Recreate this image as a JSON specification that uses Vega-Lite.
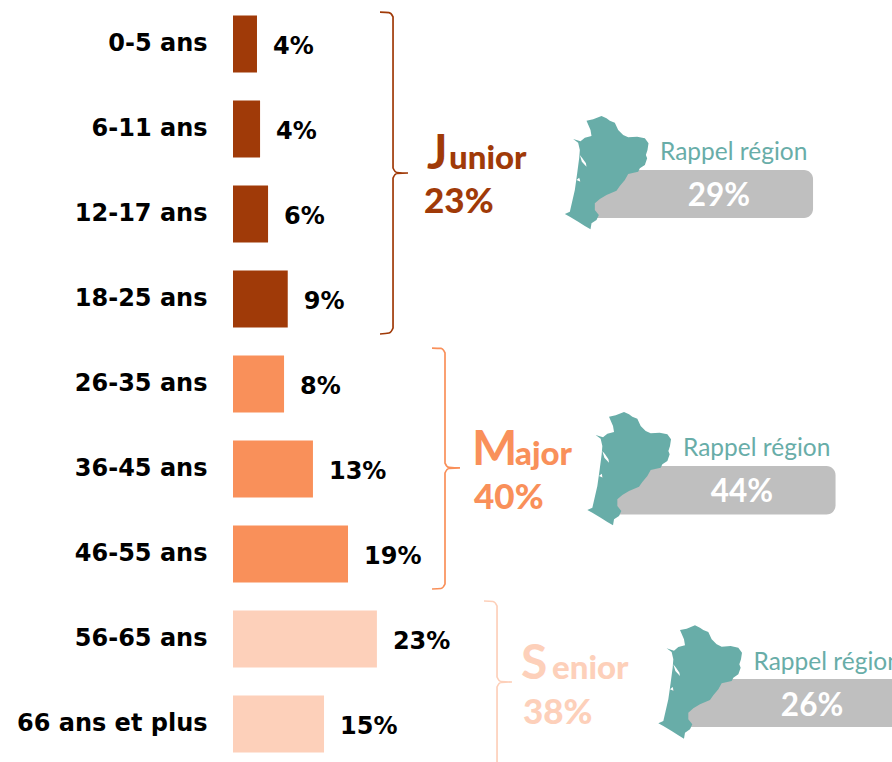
{"$schema":"https://vega.github.io/schema/vega-lite/v6.json","width":659,"height":762,"autosize":{"type":"none"},"padding":{"left":233,"top":0,"right":0,"bottom":0},"background":"white","view":{"stroke":null},"datasets":{"ages":[{"age":"0-5 ans","group":"Junior","pct":3.9,"label":"4%"},{"age":"6-11 ans","group":"Junior","pct":4.4,"label":"4%"},{"age":"12-17 ans","group":"Junior","pct":5.7,"label":"6%"},{"age":"18-25 ans","group":"Junior","pct":8.9,"label":"9%"},{"age":"26-35 ans","group":"Major","pct":8.3,"label":"8%"},{"age":"36-45 ans","group":"Major","pct":13,"label":"13%"},{"age":"46-55 ans","group":"Major","pct":18.7,"label":"19%"},{"age":"56-65 ans","group":"Senior","pct":23.4,"label":"23%"},{"age":"66 ans et plus","group":"Senior","pct":14.8,"label":"15%"}],"groups":[{"group":"Junior","initial":"J","rest":"unior","total":"23%","rappel":"29%","title":"Rappel région","xCap":31.54,"xInitial":31.06,"xRest":35.12,"rowName":1.465,"rowTotal":1.983,"xBarStart":56.42,"xBarEnd":94.31,"rowBarTop":1.476,"rowBarBottom":2.041,"xTitle":69.43,"rowTitle":1.353,"xValue":79.02,"rowValue":1.899,"xMap":60.73,"rowMap":1.508},{"group":"Major","initial":"M","rest":"ajor","total":"40%","rappel":"44%","title":"Rappel région","xCap":38.87,"xInitial":39.19,"xRest":45.85,"rowName":4.947,"rowTotal":5.465,"xBarStart":60.0,"xBarEnd":97.97,"rowBarTop":4.959,"rowBarBottom":5.529,"xTitle":73.17,"rowTitle":4.836,"xValue":82.76,"rowValue":5.381,"xMap":64.39,"rowMap":4.99},{"group":"Senior","initial":"S","rest":"enior","total":"38%","rappel":"26%","title":"Rappel région","xCap":46.83,"xInitial":47.15,"xRest":51.87,"rowName":7.468,"rowTotal":7.995,"xBarStart":71.54,"xBarEnd":112,"rowBarTop":7.465,"rowBarBottom":8.03,"xTitle":84.63,"rowTitle":7.353,"xValue":94.15,"rowValue":7.899,"xMap":75.93,"rowMap":7.5}],"bracket":[{"group":"Junior","o":1,"x":23.9,"row":-0.382},{"group":"Junior","o":2,"x":25.37,"row":-0.376},{"group":"Junior","o":3,"x":26.02,"row":-0.324},{"group":"Junior","o":4,"x":26.02,"row":1.453},{"group":"Junior","o":5,"x":26.67,"row":1.506},{"group":"Junior","o":6,"x":28.46,"row":1.512},{"group":"Junior","o":7,"x":26.67,"row":1.518},{"group":"Junior","o":8,"x":26.02,"row":1.571},{"group":"Junior","o":9,"x":26.02,"row":3.335},{"group":"Junior","o":10,"x":25.37,"row":3.394},{"group":"Junior","o":11,"x":23.9,"row":3.406},{"group":"Major","o":1,"x":32.36,"row":3.571},{"group":"Major","o":2,"x":33.82,"row":3.576},{"group":"Major","o":3,"x":34.47,"row":3.629},{"group":"Major","o":4,"x":34.47,"row":4.924},{"group":"Major","o":5,"x":35.12,"row":4.976},{"group":"Major","o":6,"x":36.91,"row":4.982},{"group":"Major","o":7,"x":35.12,"row":4.988},{"group":"Major","o":8,"x":34.47,"row":5.041},{"group":"Major","o":9,"x":34.47,"row":6.347},{"group":"Major","o":10,"x":33.82,"row":6.4},{"group":"Major","o":11,"x":32.36,"row":6.406},{"group":"Senior","o":1,"x":40.81,"row":6.547},{"group":"Senior","o":2,"x":42.28,"row":6.553},{"group":"Senior","o":3,"x":42.93,"row":6.606},{"group":"Senior","o":4,"x":42.93,"row":7.441},{"group":"Senior","o":5,"x":43.58,"row":7.494},{"group":"Senior","o":6,"x":45.37,"row":7.5},{"group":"Senior","o":7,"x":43.58,"row":7.506},{"group":"Senior","o":8,"x":42.93,"row":7.559},{"group":"Senior","o":9,"x":42.93,"row":8.441}]},"resolve":{"scale":{"y":"independent"}},"layer":[{"data":{"name":"ages"},"encoding":{"y":{"field":"age","type":"nominal","sort":null,"scale":{"type":"band","range":[1.6,766.6],"paddingInner":0.3294,"paddingOuter":0.1647},"axis":{"title":null,"domain":false,"ticks":false,"labelPadding":26,"labelOffset":-0.3,"labelFontSize":24,"labelFont":"DejaVu Sans","labelFontWeight":"bold","labelColor":"#000000","labelLimit":230,"grid":false}},"x":{"field":"pct","type":"quantitative","scale":{"domain":[0,107.15],"range":[0,659],"nice":false,"zero":false},"axis":null},"color":{"field":"group","type":"nominal","scale":{"domain":["Junior","Major","Senior"],"range":["#A03A08","#F9905A","#FDD0BA"]},"legend":null}},"layer":[{"mark":{"type":"bar","clip":false}},{"mark":{"type":"text","align":"left","baseline":"middle","dx":16,"dy":3,"font":"DejaVu Sans","fontWeight":"bold","fontSize":24,"color":"#000000"},"encoding":{"text":{"field":"label","type":"nominal"},"color":{"value":"#000000"}}}]},{"data":{"name":"groups"},"encoding":{"y":{"field":"rowBarTop","type":"quantitative","scale":{"domain":[-0.5235,8.4412],"range":[0,762],"nice":false,"zero":false},"axis":null},"x":{"field":"xBarStart","type":"quantitative"},"color":{"field":"group","type":"nominal","legend":null}},"layer":[{"mark":{"type":"rect","cornerRadius":9},"encoding":{"x2":{"field":"xBarEnd"},"y2":{"field":"rowBarBottom"},"color":{"value":"#BFBFBF"}}},{"data":{"name":"bracket"},"mark":{"type":"line","strokeWidth":1.7,"interpolate":"monotone","clip":false},"encoding":{"x":{"field":"x","type":"quantitative"},"y":{"field":"row","type":"quantitative"},"order":{"field":"o","type":"quantitative"},"detail":{"field":"group"}}},{"mark":{"type":"point","filled":true,"opacity":1,"size":7056,"strokeWidth":0,"shape":"M-0.476,-1.238L-0.317,-1.27L-0.119,-1.349L0,-1.294L0.079,-1.238L0.198,-1.19L0.278,-1.016L0.397,-0.897L0.516,-0.841L0.73,-0.857L0.913,-0.817L1,-0.698L0.976,-0.54L0.937,-0.421L0.968,-0.341L0.913,-0.183L0.794,-0.103L0.754,-0.024L0.516,0.032L0.437,0.175L0.317,0.317L0.238,0.429L0,0.532L-0.159,0.627L-0.278,0.73L-0.278,0.889L-0.183,1.008L-0.238,1.127L-0.357,1.206L-0.381,1.349L-0.516,1.27L-0.675,1.167L-0.873,1.048L-0.992,0.984L-0.873,0.929L-0.754,0.413L-0.698,0.016L-0.651,-0.341L-0.635,-0.54L-0.675,-0.714L-0.794,-0.802L-0.619,-0.746L-0.516,-0.833L-0.357,-0.873L-0.381,-1.016ZM-0.635,-0.421L-0.587,-0.262L-0.476,-0.143L-0.49,-0.222L-0.57,-0.34ZM-0.714,0.175L-0.619,0.214L-0.651,0.119Z"},"encoding":{"x":{"field":"xMap","type":"quantitative"},"y":{"field":"rowMap","type":"quantitative"},"color":{"value":"#68ADA8"}}},{"mark":{"type":"text","align":"left","baseline":"alphabetic","font":"Lato","fontWeight":"bold","fontSize":48},"encoding":{"x":{"field":"xCap","type":"quantitative"},"y":{"field":"rowName","type":"quantitative"},"text":{"field":"initial"}}},{"mark":{"type":"text","align":"left","baseline":"alphabetic","font":"Lato","fontWeight":900,"fontSize":33},"encoding":{"x":{"field":"xRest","type":"quantitative"},"y":{"field":"rowName","type":"quantitative"},"text":{"field":"rest"}}},{"mark":{"type":"text","align":"left","baseline":"alphabetic","font":"Lato","fontWeight":900,"fontSize":35},"encoding":{"x":{"field":"xInitial","type":"quantitative"},"y":{"field":"rowTotal","type":"quantitative"},"text":{"field":"total"}}},{"mark":{"type":"text","align":"left","baseline":"alphabetic","font":"Lato","fontSize":24.5},"encoding":{"x":{"field":"xTitle","type":"quantitative"},"y":{"field":"rowTitle","type":"quantitative"},"text":{"field":"title"},"color":{"value":"#68ADA8"}}},{"mark":{"type":"text","align":"center","baseline":"alphabetic","font":"Lato","fontWeight":"bold","fontSize":31.5},"encoding":{"x":{"field":"xValue","type":"quantitative"},"y":{"field":"rowValue","type":"quantitative"},"text":{"field":"rappel"},"color":{"value":"#FFFFFF"}}}]}]}
